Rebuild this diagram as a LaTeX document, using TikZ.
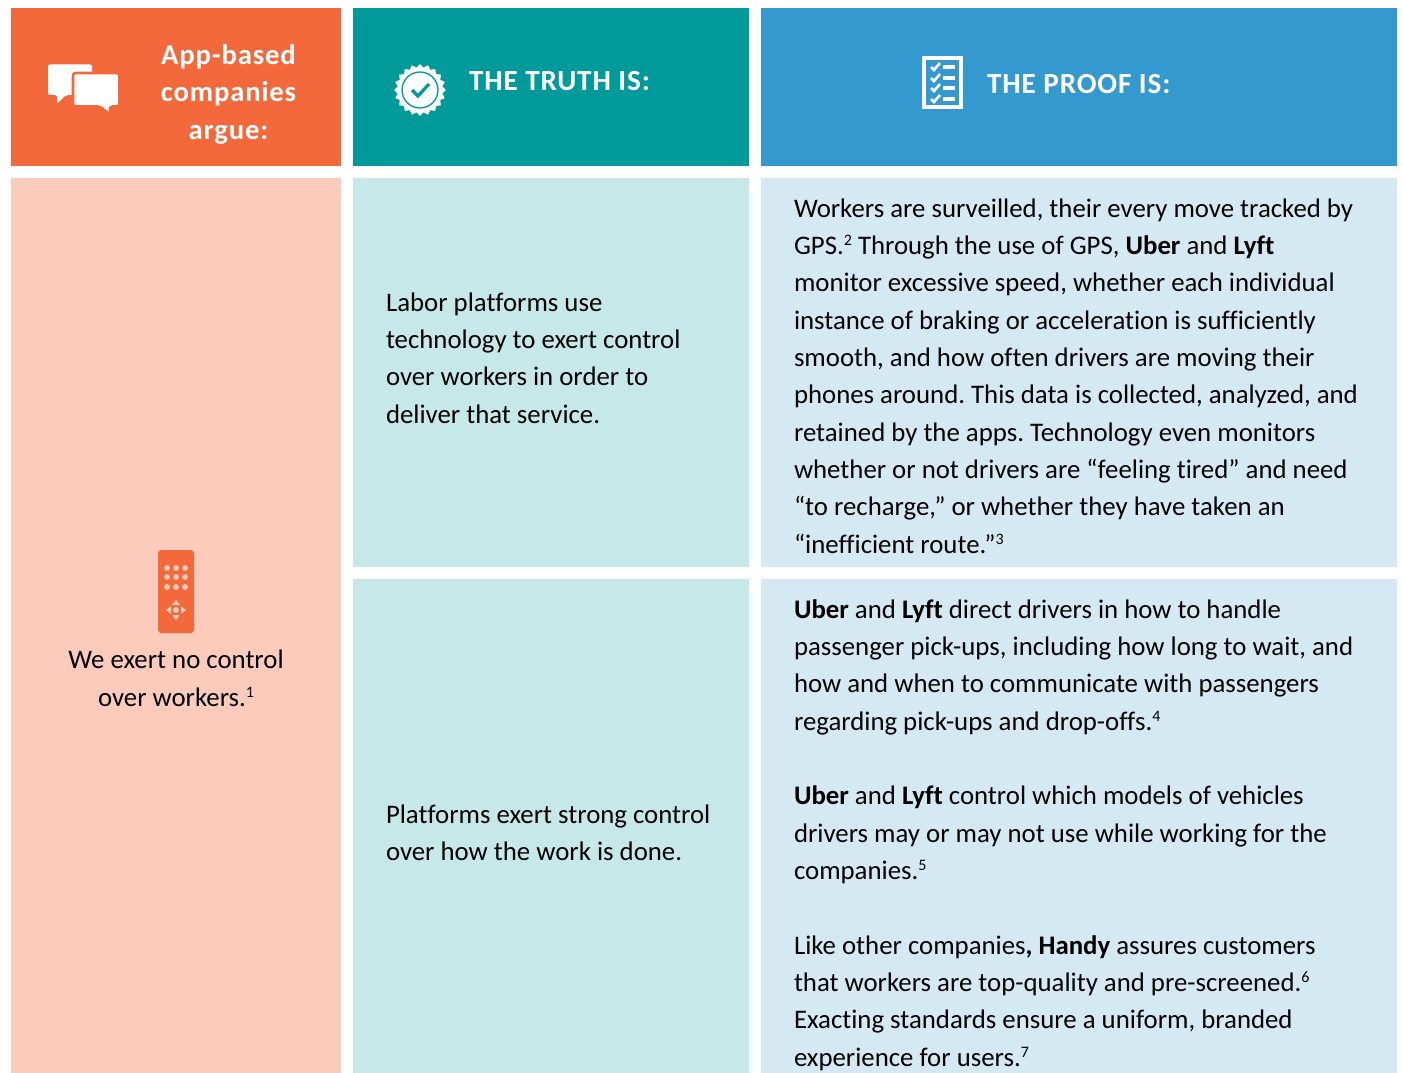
\documentclass[tikz,border=0pt]{standalone}
\usepackage{fontspec}
\setmainfont[Ligatures={TeX,NoCommon}]{Carlito}
\newfontfamily\headfont[LetterSpace=3,Ligatures=NoCommon]{Carlito}
\usetikzlibrary{shapes.geometric}
\definecolor{orangeC}{HTML}{F3693B}
\definecolor{tealC}{HTML}{009A9A}
\definecolor{blueC}{HTML}{3399CF}
\definecolor{pinkL}{HTML}{FCCBBC}
\definecolor{tealL}{HTML}{C6E8E9}
\definecolor{blueL}{HTML}{D5E9F3}
\newcommand{\firstline}{\rule{0pt}{20pt}}
\newcommand{\sups}[1]{\raisebox{6.5pt}{\fontsize{12}{12}\selectfont #1}}
\tikzset{
  x=0.75pt,y=-0.75pt,
  body/.style={inner sep=0pt,outer sep=0pt,anchor=north west,align=left,text=black,font=\fontsize{20.1}{28}\selectfont\frenchspacing},
  bodyc/.style={inner sep=0pt,outer sep=0pt,anchor=north,align=center,text=black,font=\fontsize{20.1}{28}\selectfont\frenchspacing},
  head/.style={inner sep=0pt,outer sep=0pt,anchor=base west,text=white,font=\headfont\fontsize{21.9}{28}\selectfont\bfseries},
  headc/.style={inner sep=0pt,outer sep=0pt,anchor=north,align=center,text=white,font=\headfont\fontsize{21.5}{28}\selectfont\bfseries},
  chk/.style={draw=white,line width=2pt,line cap=butt},
}
\begin{document}
\begin{tikzpicture}
\useasboundingbox (0,0) rectangle (1403,1073);
\fill[white] (0,0) rectangle (1403,1073);
% cells
\fill[orangeC] (11,8) rectangle (341,166);
\fill[tealC] (353,8) rectangle (749,166);
\fill[blueC] (761,8) rectangle (1397,166);
\fill[pinkL] (11,178) rectangle (341,1073);
\fill[tealL] (353,178) rectangle (749,567);
\fill[tealL] (353,579) rectangle (749,1073);
\fill[blueL] (761,178) rectangle (1397,567);
\fill[blueL] (761,579) rectangle (1397,1073);
% header texts
\node[headc] (argue) at (228.5,38) {\firstline App-based\\companies\\argue:};
\node[head] (truth) at (469,90.7) {THE TRUTH IS:};
\node[head] (proof) at (987,94) {THE PROOF IS:};
% chat icon
\fill[white,rounded corners=1.5pt] (48,64.5) -- (92,64.5) -- (92,95) -- (66,95) -- (57,104) -- (57,95) -- (48,95) -- cycle;
\fill[white,draw=orangeC,line width=2pt,rounded corners=2pt] (73,73) -- (119.5,73) -- (119.5,106.5) -- (110,106.5) -- (110,115) -- (100,106.5) -- (73,106.5) -- cycle;
% seal icon
\node[star,star points=20,star point ratio=1.15,fill=white,minimum size=39pt,inner sep=0pt] (seal) at (420,90) {};
\node[circle,draw=tealC,line width=1pt,fill=white,minimum size=27pt,inner sep=0pt] (sealring) at (420,90) {};
\draw[tealC,line width=2.4pt] (412,90) -- (418,96) -- (429,84);
% checklist icon
\draw[white,line width=3pt] (924,58) rectangle (961,107);
\foreach \yy in {67,78,88,99}{
  \draw[chk] (931,\yy) -- (934,\yy+3) -- (940,\yy-4);
  \draw[white,line width=2.3pt] (943,\yy) -- (955,\yy);
}
% remote icon
\fill[orangeC,rounded corners=2.5pt] (158,550) rectangle (194,633);
\foreach \yy in {568,577,587}\foreach \xx in {167,176,185}{\fill[pinkL] (\xx,\yy) circle (2.2pt);}
\fill[pinkL] (176,610) circle (2.2pt);
\fill[pinkL] (176,600) -- (180,605) -- (172,605) -- cycle;
\fill[pinkL] (176,620) -- (180,615) -- (172,615) -- cycle;
\fill[pinkL] (166,610) -- (171,606) -- (171,614) -- cycle;
\fill[pinkL] (186,610) -- (181,606) -- (181,614) -- cycle;
% body
\node[bodyc] (claim) at (176,642.2) {\firstline We exert no control\\over workers.\sups{1}};
\node[body] (t1) at (386,284.6) {\firstline Labor platforms use\\technology to exert control\\over workers in order to\\deliver that service.};
\node[body] (t2) at (386,796.6) {\firstline Platforms exert strong control\\over how the work is done.};
\node[body] (p1) at (794,190.6) {\firstline Workers are surveilled, their every move tracked by\\
GPS.\sups{2} Through the use of GPS, \textbf{Uber} and \textbf{Lyft}\\
monitor excessive speed, whether each individual\\
instance of braking or acceleration is sufficiently\\
smooth, and how often drivers are moving their\\
phones around. This data is collected, analyzed, and\\
retained by the apps. Technology even monitors\\
whether or not drivers are “feeling tired” and need\\
“to recharge,” or whether they have taken an\\
“inefficient route.”\sups{3}};
\node[body] (p2) at (794,591.6) {\firstline \textbf{Uber} and \textbf{Lyft} direct drivers in how to handle\\
passenger pick-ups, including how long to wait, and\\
how and when to communicate with passengers\\
regarding pick-ups and drop-offs.\sups{4}\\[28pt]
\textbf{Uber} and \textbf{Lyft} control which models of vehicles\\
drivers may or may not use while working for the\\
companies.\sups{5}\\[28pt]
Like other companies\textbf{, Handy} assures customers\\
that workers are top-quality and pre-screened.\sups{6}\\
Exacting standards ensure a uniform, branded\\
experience for users.\sups{7}};
\end{tikzpicture}
\end{document}
